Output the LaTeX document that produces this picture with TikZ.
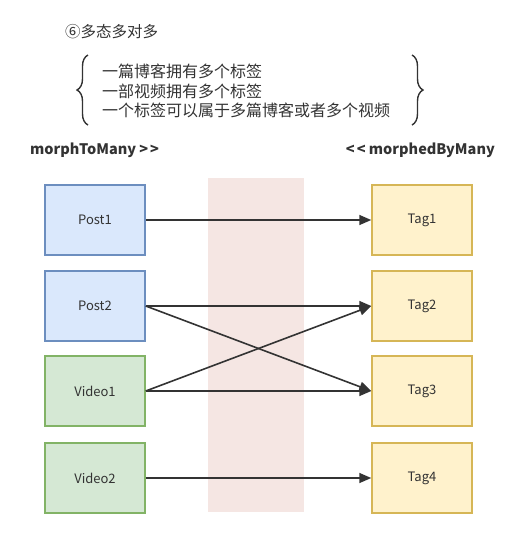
\documentclass[tikz,border=0pt]{standalone}
\usepackage{fontspec}
\setmainfont{Noto Sans CJK SC}
\usepackage{tikz}
\usetikzlibrary{positioning,arrows.meta,decorations.pathreplacing}
\definecolor{postfill}{HTML}{DAE8FC}\definecolor{postline}{HTML}{6C8EBF}
\definecolor{vidfill}{HTML}{D5E8D4}\definecolor{vidline}{HTML}{82B366}
\definecolor{tagfill}{HTML}{FFF2CC}\definecolor{tagline}{HTML}{D6B656}
\definecolor{bandfill}{HTML}{F5E6E3}\definecolor{ink}{HTML}{333333}

\begin{document}
\begin{tikzpicture}[x=1pt,y=-1pt,
  box/.style={draw,line width=1.5pt,minimum width=100pt,minimum height=70pt,inner sep=0pt,font=\fontsize{13}{14}\selectfont,text=ink},
  post/.style={box,fill=postfill,draw=postline},
  vid/.style={box,fill=vidfill,draw=vidline},
  tag/.style={box,fill=tagfill,draw=tagline},
  rel/.style={draw=ink,line width=1.6pt,-{Triangle[length=12pt,width=10pt]}},
  lab/.style={font=\fontsize{14.5}{16}\selectfont\bfseries,text=ink,inner sep=0pt},
  brc/.style={draw=ink,line width=1.4pt,decorate,decoration={brace,amplitude=11pt}}]
\useasboundingbox (0,0) rectangle (523,539);
\node[fill=bandfill,minimum width=96pt,minimum height=334pt,inner sep=0pt] (band) at (256,345) {};
\node[font=\fontsize{15.5}{17}\selectfont,text=ink,anchor=west,inner sep=0pt] (title) at (65,32) {⑥多态多对多};
\node[font=\fontsize{16}{19.5}\selectfont,text=ink,anchor=west,align=left,inner sep=0pt] (notes) at (102,91) {一篇博客拥有多个标签\\一部视频拥有多个标签\\一个标签可以属于多篇博客或者多个视频};
\draw[brc] (88,125) -- (88,55);
\draw[brc] (412,55) -- (412,125);
\node[lab,anchor=west] (lto) at (30,150) {morphToMany >\kern2pt>};
\node[lab,anchor=east] (lby) at (495,150) {<\kern2pt< morphedByMany};
\node[post] (p1) at (95,220) {Post1};
\node[post] (p2) at (95,306) {Post2};
\node[vid] (v1) at (95,391) {Video1};
\node[vid] (v2) at (95,478) {Video2};
\node[tag] (t1) at (422,220) {Tag1};
\node[tag] (t2) at (422,306) {Tag2};
\node[tag] (t3) at (422,391) {Tag3};
\node[tag] (t4) at (422,478) {Tag4};
\draw[rel] (p1) -- (t1); \draw[rel] (p2) -- (t2); \draw[rel] (p2.east) -- (t3.west);
\draw[rel] (v1.east) -- (t2.west); \draw[rel] (v1) -- (t3); \draw[rel] (v2) -- (t4);
\end{tikzpicture}
\end{document}
